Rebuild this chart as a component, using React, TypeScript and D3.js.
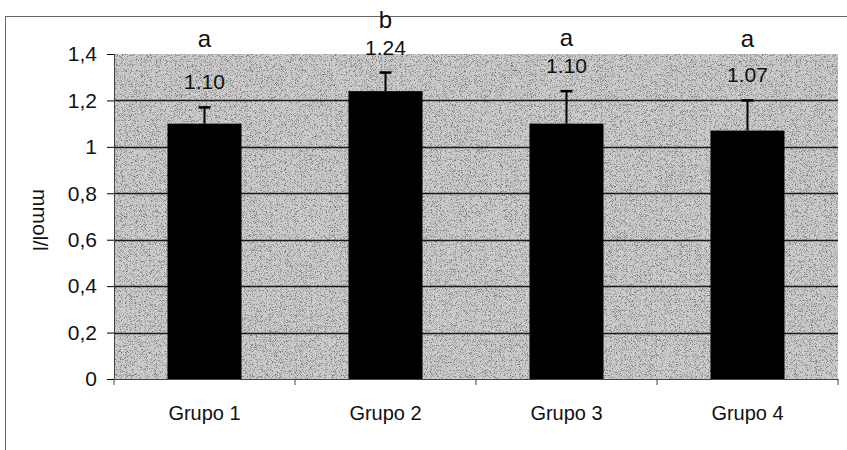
import React, { useEffect, useRef } from 'react';
import * as d3 from 'd3';

const categories = ['Grupo 1', 'Grupo 2', 'Grupo 3', 'Grupo 4'];
const means = [1.10, 1.24, 1.10, 1.07];
const errors = [0.07, 0.08, 0.14, 0.13];
const letters = ['a', 'b', 'a', 'a'];
const yTicks = [0, 0.2, 0.4, 0.6, 0.8, 1, 1.2, 1.4];

const App = () => {
  const ref = useRef<SVGSVGElement>(null);

  useEffect(() => {
    const width = 847;
    const height = 450;
    const font = '"Liberation Sans", Arial, sans-serif';

    d3.select(ref.current).selectAll('*').remove();

    const margin = { top: 54, right: 9, bottom: 71, left: 114 };
    const chartWidth = width - margin.left - margin.right;
    const chartHeight = height - margin.top - margin.bottom;

    const svg = d3.select(ref.current).attr('width', width).attr('height', height);

    // grainy grey texture like the scanned plot area
    const defs = svg.append('defs');
    const filter = defs.append('filter').attr('id', 'grain')
      .attr('x', 0).attr('y', 0).attr('width', 1).attr('height', 1)
      .attr('color-interpolation-filters', 'sRGB');
    filter.append('feTurbulence').attr('type', 'fractalNoise').attr('baseFrequency', 1.2)
      .attr('numOctaves', 2).attr('seed', 7).attr('result', 'noise');
    filter.append('feColorMatrix').attr('in', 'noise').attr('type', 'matrix')
      .attr('values', '0 0 0 0 0.45  0 0 0 0 0.45  0 0 0 0 0.45  4 0 0 0 -2.0')
      .attr('result', 'dots');
    filter.append('feComposite').attr('in', 'dots').attr('in2', 'SourceGraphic')
      .attr('operator', 'in').attr('result', 'clipped');
    const merge = filter.append('feMerge');
    merge.append('feMergeNode').attr('in', 'SourceGraphic');
    merge.append('feMergeNode').attr('in', 'clipped');

    // outer chart border (cut off on the right and bottom)
    svg.append('rect')
      .attr('x', 5.5).attr('y', 16.5)
      .attr('width', width + 10).attr('height', height)
      .attr('fill', 'white').attr('stroke', '#666').attr('stroke-width', 1);

    const g = svg.append('g').attr('transform', `translate(${margin.left},${margin.top})`);

    const x = d3.scaleBand().domain(categories).range([0, chartWidth]).paddingInner(0).paddingOuter(0);
    const y = d3.scaleLinear().domain([0, 1.4]).range([chartHeight, 0]);

    // plot background
    g.append('rect')
      .attr('width', chartWidth).attr('height', chartHeight)
      .attr('fill', '#cdcdcd')
      .attr('filter', 'url(#grain)');

    // gridlines
    g.selectAll('.grid')
      .data(yTicks.filter(d => d > 0 && d < 1.4))
      .enter()
      .append('line')
      .attr('x1', 0).attr('x2', chartWidth)
      .attr('y1', d => Math.round(y(d)) + 0.5).attr('y2', d => Math.round(y(d)) + 0.5)
      .attr('stroke', '#1a1a1a').attr('stroke-width', 1.3);

    // Y axis
    const yAxis = g.append('g')
      .call(d3.axisLeft(y).tickValues(yTicks).tickSize(7).tickPadding(10)
        .tickFormat(d => String(d).replace('.', ',')));
    yAxis.select('.domain').attr('stroke', '#444');
    yAxis.selectAll('text').style('font-family', font).style('font-size', '21px').attr('fill', '#111');

    // X axis
    const xAxis = g.append('g')
      .attr('transform', `translate(0,${chartHeight})`)
      .call(d3.axisBottom(x).tickSize(0).tickPadding(27));
    xAxis.select('.domain').attr('stroke', '#444');
    xAxis.selectAll('text').style('font-family', font).style('font-size', '20px').attr('fill', '#111');
    xAxis.selectAll('.sep')
      .data(d3.range(categories.length + 1))
      .enter()
      .append('line')
      .attr('x1', i => i * x.step()).attr('x2', i => i * x.step())
      .attr('y1', 0).attr('y2', 6)
      .attr('stroke', '#444');

    const barW = 74;
    const cx = (d: string) => (x(d) as number) + x.bandwidth() / 2;

    // bars
    g.selectAll('.bar')
      .data(categories)
      .enter()
      .append('rect')
      .attr('x', d => cx(d) - barW / 2)
      .attr('y', (d, i) => y(means[i]))
      .attr('width', barW)
      .attr('height', (d, i) => chartHeight - y(means[i]))
      .attr('fill', '#000');

    // error bars
    const err = g.selectAll('.err').data(categories).enter().append('g');
    err.append('line')
      .attr('x1', d => cx(d)).attr('x2', d => cx(d))
      .attr('y1', (d, i) => y(means[i])).attr('y2', (d, i) => y(means[i] + errors[i]))
      .attr('stroke', '#000').attr('stroke-width', 2);
    err.append('line')
      .attr('x1', d => cx(d) - 6).attr('x2', d => cx(d) + 6)
      .attr('y1', (d, i) => y(means[i] + errors[i])).attr('y2', (d, i) => y(means[i] + errors[i]))
      .attr('stroke', '#000').attr('stroke-width', 2.5);

    // value and letter labels
    const valueBase = (i: number) => y(means[i] + errors[i]) - 18;
    g.selectAll('.val')
      .data(categories)
      .enter()
      .append('text')
      .attr('x', d => cx(d))
      .attr('y', (d, i) => valueBase(i))
      .attr('text-anchor', 'middle')
      .style('font-family', font).style('font-size', '21px')
      .attr('fill', '#111')
      .text((d, i) => means[i].toFixed(2));
    g.selectAll('.letter')
      .data(categories)
      .enter()
      .append('text')
      .attr('x', d => cx(d))
      .attr('y', (d, i) => Math.min(-7, valueBase(i) - 27))
      .attr('text-anchor', 'middle')
      .style('font-family', font).style('font-size', '24px')
      .attr('fill', '#111')
      .text((d, i) => letters[i]);

    // axis title
    svg.append('text')
      .attr('transform', 'translate(33,220) rotate(90)')
      .attr('text-anchor', 'middle')
      .style('font-family', font).style('font-size', '21px')
      .attr('fill', '#111')
      .text('mmol/l');
  }, []);

  return <svg ref={ref} style={{ position: 'absolute', left: 0, top: 0 }}></svg>;
};

export default App;
